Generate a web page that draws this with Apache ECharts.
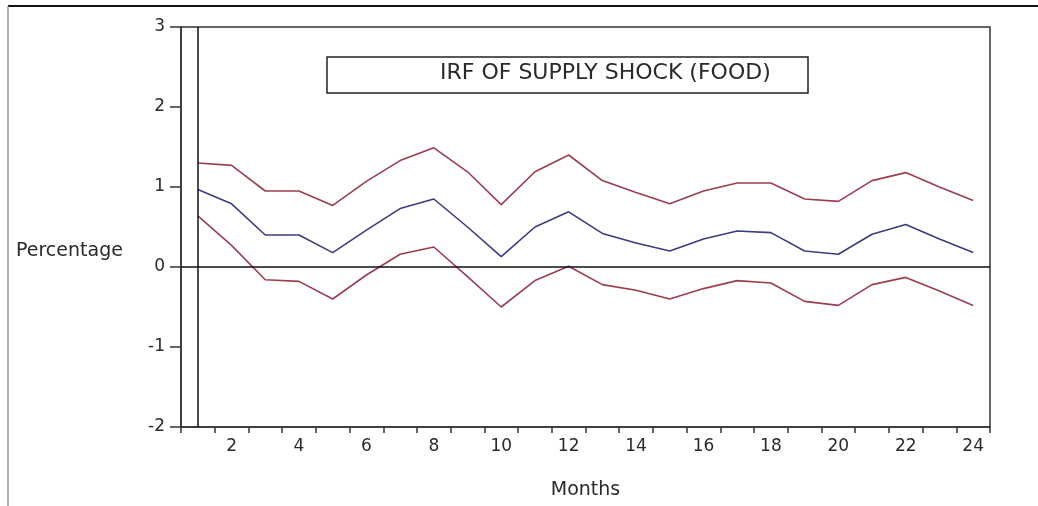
<!DOCTYPE html>
<html>
<head>
<meta charset="utf-8">
<script src="https://cdn.jsdelivr.net/npm/echarts@6/dist/echarts.min.js"></script>
<style>html,body{margin:0;padding:0;background:#fff}#c{width:1038px;height:506px}</style>
</head>
<body>
<div id="c"></div>
<script>
const months = ['1','2','3','4','5','6','7','8','9','10','11','12','13','14','15','16','17','18','19','20','21','22','23','24'];
const monthLabels = ['', '2', '', '4', '', '6', '', '8', '', '10', '', '12', '', '14', '', '16', '', '18', '', '20', '', '22', '', '24'];
const irf = [0.97,0.79,0.40,0.40,0.18,0.46,0.73,0.85,0.50,0.13,0.50,0.69,0.42,0.30,0.20,0.35,0.45,0.43,0.20,0.16,0.41,0.53,0.35,0.18];
const upperBand = [1.30,1.27,0.95,0.95,0.77,1.07,1.33,1.49,1.19,0.78,1.19,1.40,1.08,0.93,0.79,0.95,1.05,1.05,0.85,0.82,1.08,1.18,1.00,0.83];
const lowerBand = [0.64,0.27,-0.16,-0.18,-0.40,-0.10,0.16,0.25,-0.12,-0.50,-0.17,0.01,-0.22,-0.29,-0.40,-0.27,-0.17,-0.20,-0.43,-0.48,-0.22,-0.13,-0.30,-0.48];
const yTicks = [-2,-1,0,1,2,3];
const legendText = 'IRF OF SUPPLY SHOCK (FOOD)';
const yTitle = 'Percentage';
const xTitle = 'Months';

const FONT = 'DejaVu Sans';
const TXT = '#2a2a2a';
const chart = echarts.init(document.getElementById('c'));
chart.setOption({
  animation: false,
  backgroundColor: '#fff',
  grid: {left: 181, right: 48, top: 27, bottom: 79, show: true, borderColor: '#333', borderWidth: 1.5, backgroundColor: 'transparent'},
  xAxis: {
    type: 'category', data: months, boundaryGap: true,
    name: xTitle, nameLocation: 'middle', nameGap: 54,
    nameTextStyle: {fontFamily: FONT, fontSize: 19, color: TXT},
    axisLine: {onZero: false, lineStyle: {color: '#333', width: 1.5}},
    axisTick: {show: true, length: 6, interval: 0, lineStyle: {color: '#333', width: 1.5}},
    axisLabel: {interval: 0, margin: 11, fontFamily: FONT, fontSize: 17, color: TXT,
      formatter: (v, i) => monthLabels[i]},
    splitLine: {show: false}
  },
  yAxis: {
    type: 'value', min: yTicks[0], max: yTicks[yTicks.length - 1], interval: 1,
    axisLine: {show: true, onZero: false, lineStyle: {color: '#333', width: 1.5}},
    axisTick: {show: true, length: 11, lineStyle: {color: '#333', width: 1.5}},
    axisLabel: {margin: 16, fontFamily: FONT, fontSize: 17, color: TXT},
    splitLine: {show: false}
  },
  series: [
    {type: 'line', data: upperBand, symbol: 'none', lineStyle: {color: '#9a3e50', width: 1.6}, z: 3},
    {type: 'line', data: irf, symbol: 'none', lineStyle: {color: '#3c3c80', width: 1.6}, z: 3,
      markLine: {silent: true, symbol: 'none', label: {show: false},
        lineStyle: {color: '#111', width: 1.5, type: 'solid'},
        data: [{yAxis: 0}, {xAxis: 0}]}},
    {type: 'line', data: lowerBand, symbol: 'none', lineStyle: {color: '#9a3e50', width: 1.6}, z: 3}
  ],
  graphic: [
    {type: 'line', shape: {x1: 8, y1: 6, x2: 1038, y2: 6}, style: {stroke: '#111', lineWidth: 2}},
    {type: 'line', shape: {x1: 8, y1: 6, x2: 8, y2: 506}, style: {stroke: '#999', lineWidth: 1.5}},
    {type: 'rect', shape: {x: 327, y: 57, width: 481, height: 36}, style: {fill: '#fff', stroke: '#222', lineWidth: 1.5}, z: 10},
    {type: 'text', left: 440, top: 62, style: {text: legendText, font: '22px "DejaVu Sans"', fill: TXT}, z: 11},
    {type: 'text', left: 16, top: 242, style: {text: yTitle, font: '19px "DejaVu Sans"', fill: TXT}, z: 11}
  ]
});
</script>
</body>
</html>
